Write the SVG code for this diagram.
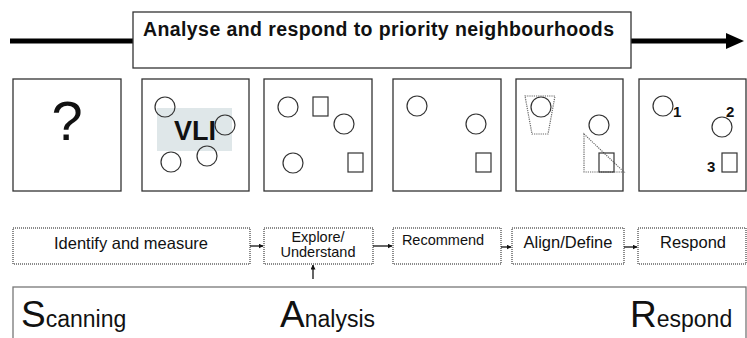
<svg xmlns="http://www.w3.org/2000/svg" width="747" height="338" viewBox="0 0 747 338">
  <defs>
    <marker id="arr" viewBox="0 0 10 10" refX="9" refY="5" markerWidth="5" markerHeight="5" orient="auto" markerUnits="userSpaceOnUse">
      <path d="M0,0 L10,5 L0,10 z" fill="#111"/>
    </marker>
    <style>
      text { font-family: "Liberation Sans", Arial, sans-serif; fill: #111; }
      .panel { fill: #fff; stroke: #333; stroke-width: 1.3; }
      .shape { fill: none; stroke: #333; stroke-width: 1.2; }
      .dots { fill: none; stroke: #666; stroke-width: 1.2; stroke-dasharray: 1.2 1; }
      .step { fill: #fff; stroke: #666; stroke-width: 1.5; stroke-dasharray: 1 1; }
      .steptxt { font-size: 16.5px; text-anchor: middle; }
      .smalltxt { font-size: 14.5px; text-anchor: middle; }
      .num { font-size: 15px; font-weight: bold; }
      .link { stroke: #111; stroke-width: 1.3; fill: none; }
      .big { font-size: 37px; }
      .rest { font-size: 23px; }
    </style>
  </defs>

  <!-- main timeline arrow with title box -->
  <g id="timeline">
    <line x1="10" y1="41" x2="728" y2="41" stroke="#000" stroke-width="5"/>
    <polygon points="726,33 744,41 726,49" fill="#000"/>
    <rect x="133" y="12" width="498" height="56" fill="#fff" stroke="#333" stroke-width="1.3"/>
    <text x="143" y="36" font-size="19.5" font-weight="bold" textLength="471" lengthAdjust="spacing">Analyse and respond to priority neighbourhoods</text>
  </g>

  <!-- picture panels -->
  <g id="panel-unknown">
    <rect class="panel" x="13" y="79" width="108" height="112"/>
    <text x="67" y="140" font-size="56" text-anchor="middle">?</text>
  </g>

  <g id="panel-vli">
    <rect class="panel" x="142" y="79" width="107" height="112"/>
    <rect x="157" y="108" width="75" height="43" fill="#dfe7e9"/>
    <text x="195" y="140" font-size="27" font-weight="bold" text-anchor="middle">VLI</text>
    <circle class="shape" cx="165" cy="107" r="10"/>
    <circle class="shape" cx="225" cy="125" r="10"/>
    <circle class="shape" cx="171" cy="162" r="10"/>
    <circle class="shape" cx="207" cy="156" r="10"/>
  </g>

  <g id="panel-explore">
    <rect class="panel" x="264" y="79" width="108" height="112"/>
    <circle class="shape" cx="288" cy="107" r="10"/>
    <rect class="shape" x="313" y="97" width="15" height="19"/>
    <circle class="shape" cx="344" cy="124" r="10"/>
    <circle class="shape" cx="293" cy="163" r="10"/>
    <rect class="shape" x="348" y="153" width="15" height="19"/>
  </g>

  <g id="panel-recommend">
    <rect class="panel" x="393" y="79" width="108" height="112"/>
    <circle class="shape" cx="417" cy="106" r="10"/>
    <circle class="shape" cx="476" cy="124" r="10"/>
    <rect class="shape" x="476" y="153" width="15" height="19"/>
  </g>

  <g id="panel-align">
    <rect class="panel" x="516" y="79" width="107" height="112"/>
    <polygon class="dots" points="525,96 555,96 548,134 532,134"/>
    <circle class="shape" cx="541" cy="107" r="10"/>
    <circle class="shape" cx="599" cy="125" r="10"/>
    <polygon class="dots" points="584,134 624,172 584,172"/>
    <rect class="shape" x="599" y="153" width="15" height="19"/>
  </g>

  <g id="panel-respond">
    <rect class="panel" x="639" y="79" width="107" height="112"/>
    <circle class="shape" cx="663" cy="106" r="10"/>
    <text class="num" x="673" y="117">1</text>
    <circle class="shape" cx="722" cy="127" r="10"/>
    <text class="num" x="726" y="117">2</text>
    <rect class="shape" x="722" y="153" width="15" height="19"/>
    <text class="num" x="707" y="172">3</text>
  </g>

  <!-- process steps -->
  <g id="step-identify">
    <rect class="step" x="13" y="228" width="237" height="36"/>
    <text class="steptxt" x="131" y="249">Identify and measure</text>
  </g>
  <g id="step-explore">
    <rect class="step" x="264" y="228" width="109" height="36"/>
    <text class="smalltxt" x="318" y="242">Explore/</text>
    <text class="smalltxt" x="318" y="257">Understand</text>
  </g>
  <g id="step-recommend">
    <rect class="step" x="393" y="228" width="108" height="36"/>
    <text class="smalltxt" x="443" y="245">Recommend</text>
  </g>
  <g id="step-align">
    <rect class="step" x="512" y="228" width="112" height="36"/>
    <text class="steptxt" x="568" y="248">Align/Define</text>
  </g>
  <g id="step-respond">
    <rect class="step" x="638" y="228" width="108" height="36"/>
    <text class="steptxt" x="693" y="248">Respond</text>
  </g>

  <!-- connectors between steps -->
  <g id="connectors">
    <line class="link" x1="250" y1="246" x2="263" y2="246" marker-end="url(#arr)"/>
    <line class="link" x1="373" y1="246" x2="392" y2="246" marker-end="url(#arr)"/>
    <line class="link" x1="501" y1="247" x2="511" y2="247" marker-end="url(#arr)"/>
    <line class="link" x1="624" y1="247" x2="637" y2="247" marker-end="url(#arr)"/>
    <line class="link" x1="313" y1="279" x2="313" y2="265" marker-end="url(#arr)"/>
  </g>

  <!-- SAR banner -->
  <g id="sar">
    <rect x="13" y="287" width="733" height="60" fill="#fff" stroke="#777" stroke-width="1.3"/>
    <text x="21" y="327"><tspan class="big">S</tspan><tspan class="rest">canning</tspan></text>
    <text x="280" y="327"><tspan class="big">A</tspan><tspan class="rest">nalysis</tspan></text>
    <text x="630" y="327"><tspan class="big">R</tspan><tspan class="rest">espond</tspan></text>
  </g>
</svg>
